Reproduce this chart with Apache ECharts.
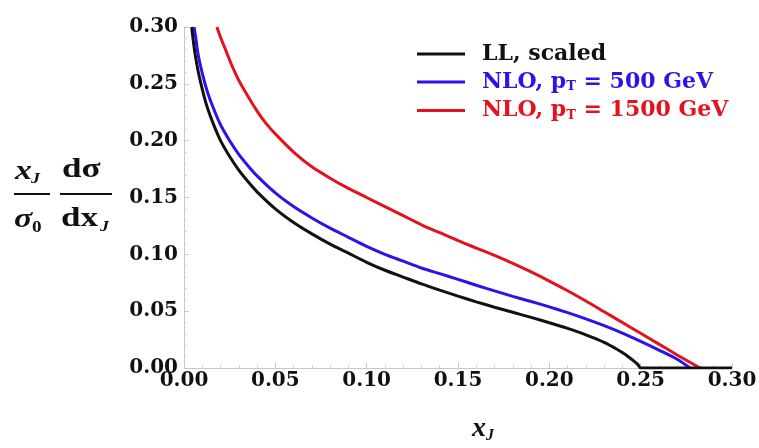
<!DOCTYPE html>
<html><head><meta charset="utf-8">
<script src="https://cdn.jsdelivr.net/npm/echarts@6/dist/echarts.min.js"></script>
<style>html,body{margin:0;padding:0;background:#fff}#c{width:759px;height:448px}</style>
</head><body><div id="c"></div>
<script>
// ---- data ----
var xTicks = [0.00, 0.05, 0.10, 0.15, 0.20, 0.25, 0.30];
var yTicks = [0.00, 0.05, 0.10, 0.15, 0.20, 0.25, 0.30];
var seriesNames = ['LL, scaled', 'NLO, pT = 500 GeV', 'NLO, pT = 1500 GeV'];

var llX = [0.0042,0.005,0.006,0.0075,0.009,0.011,0.013,0.016,0.020,0.025,0.030,0.035,0.040,0.050,0.060,0.070,0.080,0.090,0.100,0.110,0.120,0.130,0.140,0.150,0.160,0.170,0.180,0.190,0.200,0.210,0.220,0.230,0.237,0.242,0.246,0.2485,0.250,0.300];
var llY = [0.300,0.289,0.277,0.263,0.252,0.239,0.228,0.215,0.200,0.186,0.174,0.164,0.155,0.140,0.128,0.118,0.109,0.101,0.093,0.086,0.080,0.074,0.0685,0.0632,0.0582,0.0535,0.0490,0.0445,0.0398,0.0348,0.0292,0.0226,0.0165,0.0115,0.0065,0.003,0.000,0.000];

var nlo500X = [0.0055,0.0065,0.0075,0.009,0.011,0.013,0.016,0.020,0.025,0.030,0.035,0.040,0.050,0.060,0.070,0.080,0.090,0.100,0.110,0.120,0.130,0.140,0.150,0.160,0.170,0.180,0.190,0.200,0.210,0.220,0.230,0.240,0.250,0.260,0.270,0.277];
var nlo500Y = [0.300,0.290,0.278,0.266,0.253,0.242,0.229,0.214,0.200,0.188,0.178,0.169,0.154,0.142,0.132,0.123,0.115,0.107,0.100,0.094,0.088,0.083,0.078,0.0728,0.0678,0.0630,0.0585,0.0538,0.0487,0.0432,0.0372,0.0307,0.0235,0.0158,0.0077,0.000];

var nlo1500X = [0.018,0.020,0.023,0.026,0.030,0.035,0.040,0.045,0.050,0.060,0.070,0.080,0.090,0.100,0.110,0.120,0.130,0.140,0.150,0.160,0.170,0.180,0.190,0.200,0.210,0.220,0.230,0.240,0.250,0.260,0.270,0.2825];
var nlo1500Y = [0.300,0.291,0.279,0.267,0.253,0.239,0.226,0.215,0.206,0.190,0.177,0.167,0.158,0.150,0.142,0.134,0.126,0.119,0.112,0.1055,0.099,0.0920,0.0845,0.0765,0.0680,0.0590,0.0495,0.0400,0.0305,0.0210,0.0115,0.000];

function pairs(xs, ys){ return xs.map(function(x,i){ return [x, ys[i]]; }); }

var serif = '"DejaVu Serif","Liberation Serif",serif';
var times = '"Liberation Serif","DejaVu Serif",serif';
var colors = ['#111111', '#2a14ea', '#e3121c'];

var chart = echarts.init(document.getElementById('c'));
var axisCommon = {
  type: 'value', min: 0, max: 0.3, interval: 0.05,
  axisLine: { show: true, lineStyle: { color: '#c8c8c8', width: 1 } },
  axisTick: { show: true, inside: true, length: 5, lineStyle: { color: '#c8c8c8' } },
  minorTick: { show: true, splitNumber: 5, length: 3, lineStyle: { color: '#d4d4d4' } },
  splitLine: { show: false },
  axisLabel: { color: '#111', fontFamily: serif, fontWeight: 'bold', fontSize: 20,
               formatter: function(v){ return v.toFixed(2); } }
};

function lineSeries(i, xs, ys, z){
  return { name: seriesNames[i], type: 'line', data: pairs(xs, ys), smooth: 0.25,
    showSymbol: false, lineStyle: { color: colors[i], width: 3 }, itemStyle: { color: colors[i] }, z: z };
}

chart.setOption({
  animation: false,
  backgroundColor: '#fff',
  grid: { left: 184, right: 27, top: 27, bottom: 80, outerBoundsMode: 'none', containLabel: false },
  xAxis: Object.assign({}, axisCommon, {
    axisLabel: Object.assign({}, axisCommon.axisLabel, { margin: 3, lineHeight: 20 }),
    name: 'x{s|J}', nameLocation: 'middle', nameGap: 46,
    nameTextStyle: { fontFamily: times, fontStyle: 'italic', fontWeight: 'bold', fontSize: 28, color: '#111',
      padding: [0, 0, 0, 50],
      rich: { s: { fontFamily: times, fontStyle: 'italic', fontWeight: 'bold', fontSize: 16, color: '#111', padding: [14,0,0,0] } } }
  }),
  yAxis: Object.assign({}, axisCommon, {
    axisLabel: Object.assign({}, axisCommon.axisLabel, { margin: 6, padding: [0, 0, 5, 0] })
  }),
  legend: {
    left: 412, top: 38, orient: 'vertical', itemWidth: 48, itemHeight: 3, itemGap: 6,
    icon: 'rect',
    data: seriesNames,
    formatter: function(name){
      var i = seriesNames.indexOf(name);
      if (i === 0) return '{k|LL, scaled}';
      if (i === 1) return '{b|NLO, p}{bs|T}{b| = 500 GeV}';
      return '{r|NLO, p}{rs|T}{r| = 1500 GeV}';
    },
    textStyle: {
      fontFamily: serif, fontWeight: 'bold', fontSize: 22, padding: [0,0,0,12],
      rich: {
        k: { fontFamily: serif, fontWeight: 'bold', fontSize: 22, color: colors[0] },
        b: { fontFamily: serif, fontWeight: 'bold', fontSize: 22, color: colors[1] },
        r: { fontFamily: serif, fontWeight: 'bold', fontSize: 22, color: colors[2] },
        bs: { fontFamily: serif, fontWeight: 'bold', fontSize: 13, color: colors[1], padding: [10,0,0,0] },
        rs: { fontFamily: serif, fontWeight: 'bold', fontSize: 13, color: colors[2], padding: [10,0,0,0] }
      }
    }
  },
  series: [
    lineSeries(0, llX, llY, 3),
    lineSeries(1, nlo500X, nlo500Y, 2),
    lineSeries(2, nlo1500X, nlo1500Y, 2)
  ],
  graphic: [
    { type: 'text', x: 15, y: 172, scaleX: 1.25, style: { text: 'x', font: 'italic bold 27px ' + times, fill: '#111', verticalAlign: 'middle' } },
    { type: 'text', x: 31, y: 179, scaleX: 1.2, style: { text: 'J', font: 'italic bold 15px ' + times, fill: '#111', verticalAlign: 'middle' } },
    { type: 'rect', shape: { x: 14, y: 193, width: 36, height: 2 }, style: { fill: '#111' } },
    { type: 'text', x: 14, y: 220, scaleX: 1.25, style: { text: 'σ', font: 'italic bold 27px ' + times, fill: '#111', verticalAlign: 'middle' } },
    { type: 'text', x: 32, y: 228, scaleX: 1.2, style: { text: '0', font: 'bold 16px ' + times, fill: '#111', verticalAlign: 'middle' } },
    { type: 'text', x: 62, y: 170, scaleX: 1.3, style: { text: 'dσ', font: 'bold 27px ' + times, fill: '#111', verticalAlign: 'middle' } },
    { type: 'rect', shape: { x: 60, y: 193, width: 52, height: 2 }, style: { fill: '#111' } },
    { type: 'text', x: 61, y: 219, scaleX: 1.3, style: { text: 'dx', font: 'bold 27px ' + times, fill: '#111', verticalAlign: 'middle' } },
    { type: 'text', x: 100, y: 227, scaleX: 1.2, style: { text: 'J', font: 'italic bold 15px ' + times, fill: '#111', verticalAlign: 'middle' } }
  ]
});
</script>
</body></html>
